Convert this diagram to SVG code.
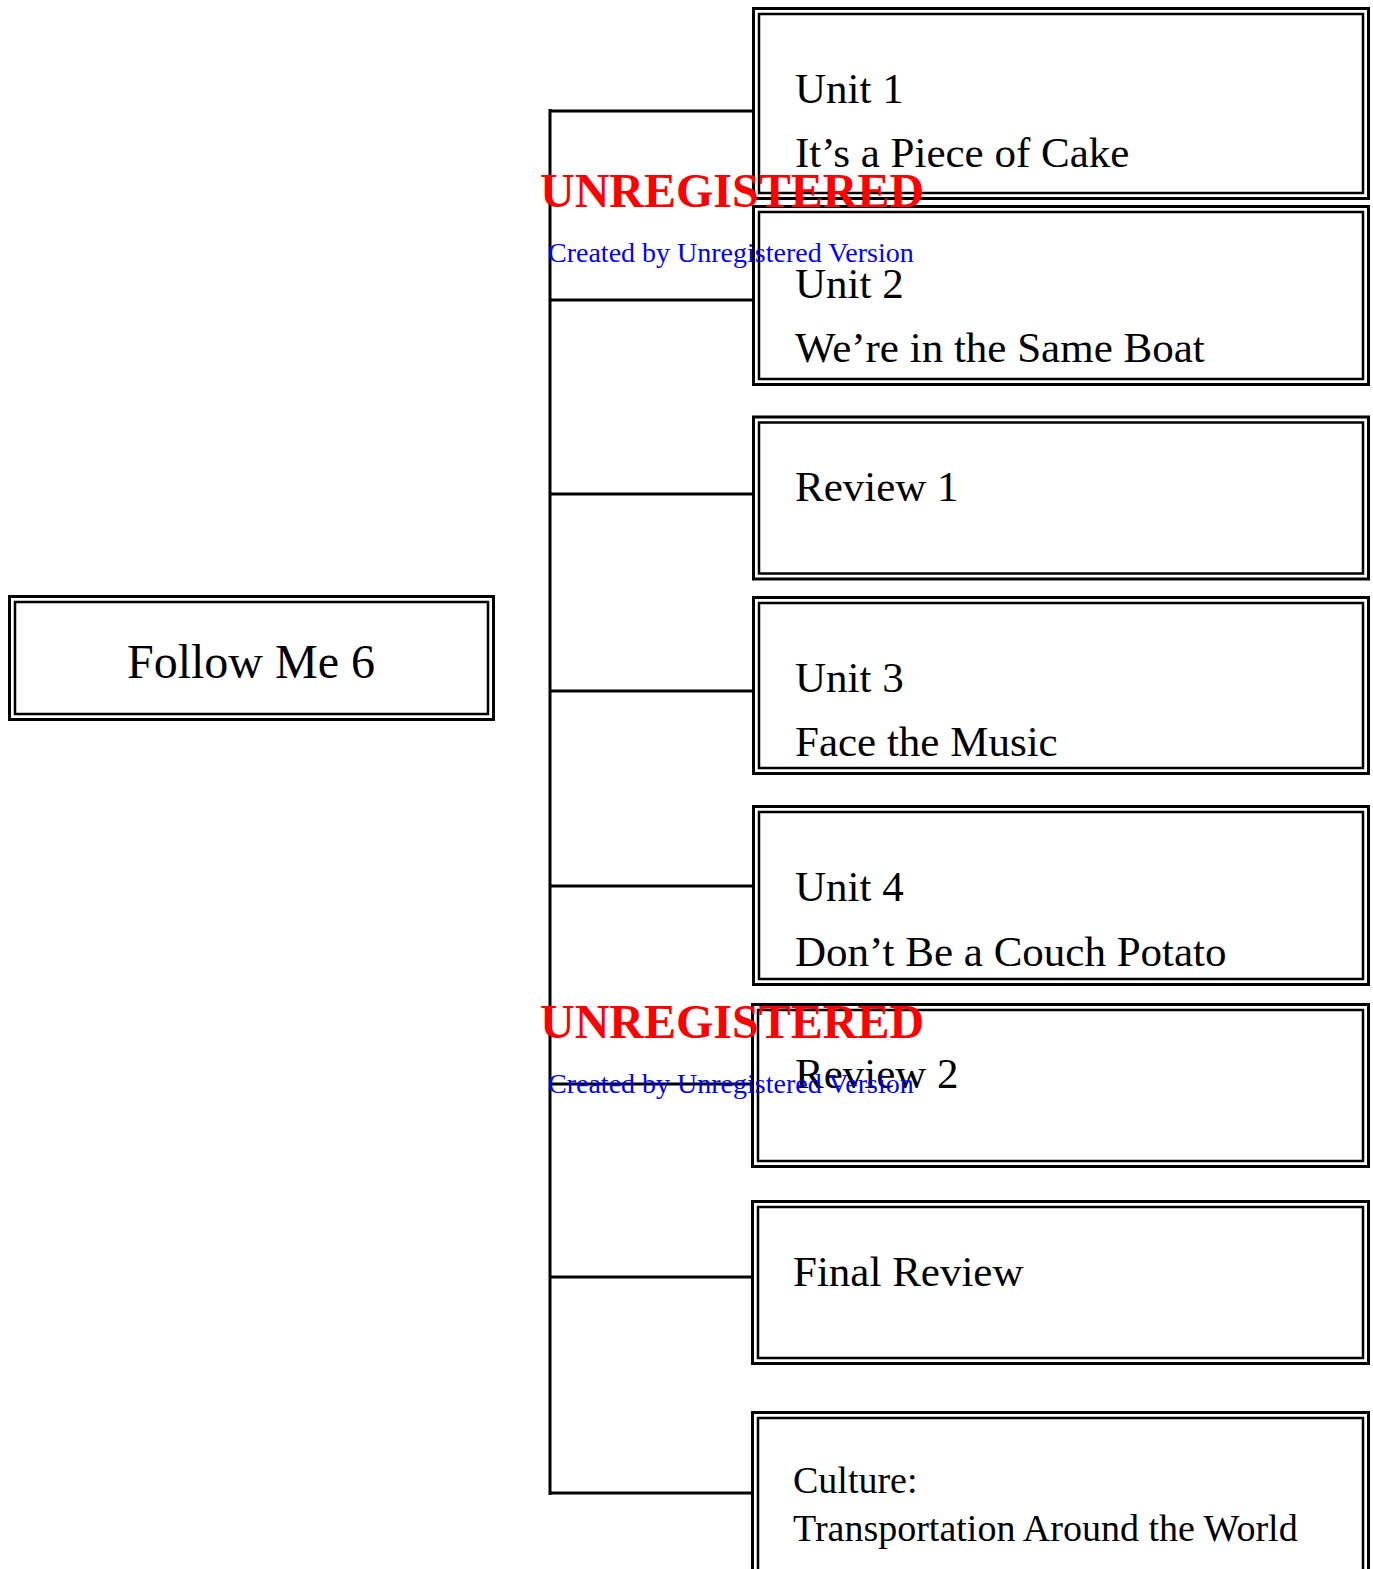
<svg xmlns="http://www.w3.org/2000/svg" width="1373" height="1569" viewBox="0 0 1373 1569">
<style>
.o{fill:none;stroke:#000;stroke-width:3}
.i{fill:none;stroke:#000;stroke-width:2.5}
.t{font-family:"Liberation Serif","Times New Roman",serif;font-size:43px;fill:#000}
.s{font-size:38px}
.c{stroke:#000;stroke-width:3;fill:none}
.wr{font-family:"Liberation Serif","Times New Roman",serif;font-size:48px;font-weight:bold;fill:#f00}
.wb{font-family:"Liberation Serif","Times New Roman",serif;font-size:28px;fill:#00f}
</style>
<rect width="1373" height="1569" fill="#fff"/>
<g id="connectors">
<path class="c" d="M550 109V1495M550 111H752M550 300H752M550 494H752M550 691H752M550 886H752M550 1084H751M550 1277H751M550 1493H751"/>
</g>
<g id="root">
<rect class="o" x="9.5" y="596.5" width="484" height="123"/>
<rect class="i" x="15" y="602" width="473" height="112"/>
<text class="t" x="251" y="678" text-anchor="middle" style="font-size:48px">Follow Me 6</text>
</g>
<g id="unit1">
<rect class="o" x="753.5" y="8.5" width="615" height="190"/>
<rect class="i" x="759" y="14" width="604" height="179"/>
<text class="t" x="795" y="103">Unit 1</text>
<text class="t" x="795" y="167">It’s a Piece of Cake</text>
</g>
<g id="unit2">
<rect class="o" x="753.5" y="206.5" width="615" height="178"/>
<rect class="i" x="759" y="212" width="604" height="167"/>
<text class="t" x="795" y="298">Unit 2</text>
<text class="t" x="795" y="362">We’re in the Same Boat</text>
</g>
<g id="review1">
<rect class="o" x="753.5" y="417" width="615" height="162"/>
<rect class="i" x="759" y="422.5" width="604" height="151"/>
<text class="t" x="795" y="501">Review 1</text>
</g>
<g id="unit3">
<rect class="o" x="753.5" y="597.5" width="615" height="176"/>
<rect class="i" x="759" y="603" width="604" height="165"/>
<text class="t" x="795" y="692">Unit 3</text>
<text class="t" x="795" y="756">Face the Music</text>
</g>
<g id="unit4">
<rect class="o" x="753.5" y="806.5" width="615" height="178"/>
<rect class="i" x="759" y="812" width="604" height="167"/>
<text class="t" x="795" y="901">Unit 4</text>
<text class="t" x="795" y="966">Don’t Be a Couch Potato</text>
</g>
<g id="review2">
<rect class="o" x="752.5" y="1004.5" width="616" height="162"/>
<rect class="i" x="758" y="1010" width="605" height="151"/>
<text class="t" x="795" y="1088">Review 2</text>
</g>
<g id="final">
<rect class="o" x="752.5" y="1201.5" width="616" height="162"/>
<rect class="i" x="758" y="1207" width="605" height="151"/>
<text class="t" x="793" y="1286">Final Review</text>
</g>
<g id="culture">
<rect class="o" x="752.5" y="1412.5" width="616" height="170"/>
<rect class="i" x="758" y="1418" width="605" height="160"/>
<text class="t s" x="793" y="1493">Culture:</text>
<text class="t s" x="793" y="1541">Transportation Around the World</text>
</g>
<g id="watermark">
<text class="wr" x="540" y="207">UNREGISTERED</text>
<text class="wb" x="548" y="262">Created by Unregistered Version</text>
<text class="wr" x="540" y="1038">UNREGISTERED</text>
<text class="wb" x="548" y="1093">Created by Unregistered Version</text>
</g>
</svg>
